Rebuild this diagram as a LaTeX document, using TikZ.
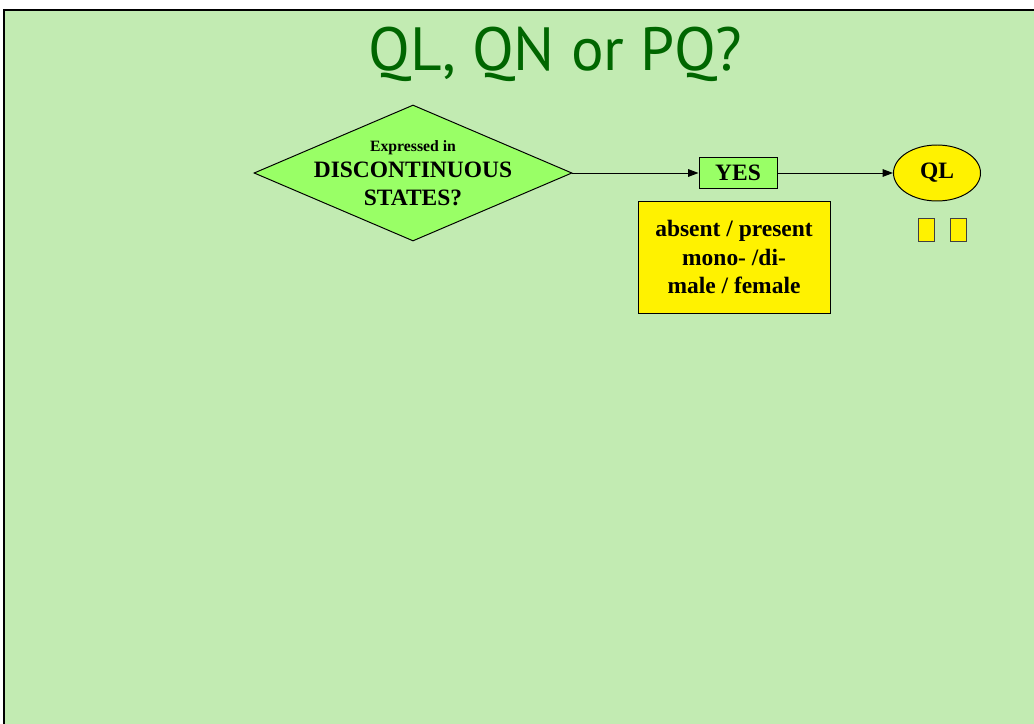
\documentclass[tikz,border=0pt]{standalone}
\usepackage{fontspec}
\setmainfont{Liberation Serif}
\newfontfamily\titlefont{PT Sans}
\usetikzlibrary{arrows.meta, positioning, shapes}

\definecolor{slidebg}{RGB}{194,235,178}
\definecolor{askgreen}{RGB}{153,255,102}
\definecolor{titlegreen}{RGB}{0,102,0}

\begin{document}
\begin{tikzpicture}[
  line width=0.7pt,
  font=\bfseries\fontsize{16.7}{20.6}\selectfont,
  ask/.style={draw, diamond, fill=askgreen, minimum width=7.95cm, minimum height=3.4cm, inner sep=0pt, aspect=2.34},
  answer/.style={draw, fill=askgreen, minimum width=1.95cm, minimum height=0.775cm, inner sep=0pt},
  verdict/.style={draw, ellipse, fill=yellow, minimum width=2.175cm, minimum height=1.4cm, inner sep=0pt},
  note/.style={draw, fill=yellow, minimum width=4.8cm, minimum height=2.8cm, align=center},
  chip/.style={draw=black!75, fill=yellow, minimum width=0.4cm, minimum height=0.575cm, inner sep=0pt},
  arr/.style={-{Triangle[length=2.6mm, width=1.9mm]}}
]
\useasboundingbox (0,0) rectangle (25.85,-18.1);

% slide
\fill[slidebg] (0.1,-0.25) rectangle (25.85,-18.1);
\draw[line width=1.4pt] (0.1,-18.1) -- (0.1,-0.25) -- (25.85,-0.25);
\node[font=\titlefont\fontsize{43.4}{50}\selectfont, text=titlegreen, anchor=base] (title) at (13.89,-1.775) {QL, QN or PQ?};

% question
\node[ask] (dq) at (10.325,-4.325) {};
\node[align=center] (dqtext) at (dq.center) {{\fontsize{11.2}{13}\selectfont Expressed in}\\[-2pt]DISCONTINUOUS\\[-1pt]STATES?};

% answer and outcome
\node[answer] (yes) at (18.45,-4.325) {YES};
\node[verdict] (ql) at (23.425,-4.325) {QL};
\node[note] (traits) at (18.35,-6.425) {absent / present\\mono- /di-\\male / female};
\node[chip] (c1) at (23.15,-5.7375) {};
\node[chip] (c2) at (23.95,-5.7375) {};

\draw[arr] (dq.east) -- (yes.west);
\draw[arr] (yes.east) -- (ql.west);

\end{tikzpicture}
\end{document}
